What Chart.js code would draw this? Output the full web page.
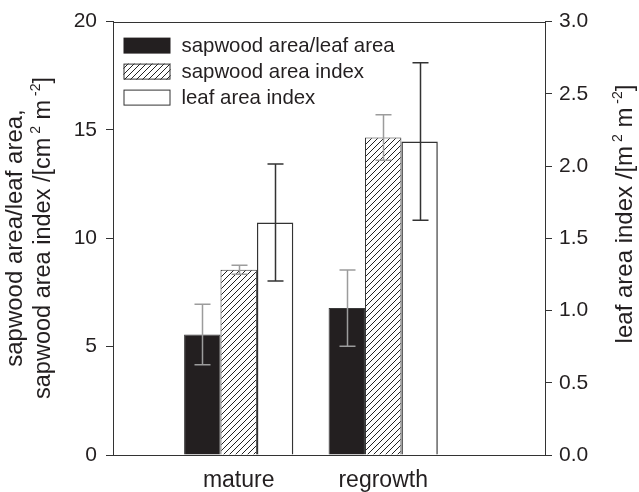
<!DOCTYPE html>
<html>
<head>
<meta charset="utf-8">
<title>Sapwood area and leaf area index</title>
<script src="https://cdn.jsdelivr.net/npm/chart.js@4.4.1/dist/chart.umd.min.js"></script>
<style>
  html, body { margin: 0; padding: 0; background: #fff; }
</style>
</head>
<body>
<canvas id="chart" width="639" height="492"></canvas>
<script>
// Values
const categories = ['mature', 'regrowth'];
const seriesLabels = ['sapwood area/leaf area', 'sapwood area index', 'leaf area index'];
const saLa = [5.56, 6.78];
const saLaErr = [1.4, 1.76];
const sai = [8.55, 14.65];
const saiErr = [0.21, 1.05];
const lai = [1.61, 2.17];
const laiErr = [0.405, 0.545];
const leftTicks = [0, 5, 10, 15, 20];
const rightTicks = [0, 0.5, 1, 1.5, 2, 2.5, 3];

const FONT = "'Liberation Sans', Arial, Helvetica, sans-serif";
const INK = '#231f20';
const AXIS = '#333333';

Chart.defaults.font.family = FONT;
Chart.defaults.color = INK;

// diagonal hatch for the sapwood area index bars
function makeHatch() {
    const c = document.createElement('canvas');
    c.width = 6; c.height = 6;
    const g = c.getContext('2d');
    g.fillStyle = '#fff';
    g.fillRect(0, 0, 6, 6);
    g.strokeStyle = '#222';
    g.lineWidth = 1;
    g.beginPath();
    g.moveTo(0, 6); g.lineTo(6, 0);
    g.moveTo(-1, 1); g.lineTo(1, -1);
    g.moveTo(5, 7); g.lineTo(7, 5);
    g.stroke();
    return g.createPattern(c, 'repeat');
}
const hatch = makeHatch();

// categories sit at x = 1, 2 on a linear axis
function toPoints(values) {
    return values.map((v, i) => ({ x: i + 1, y: v }));
}

// draws rotated (bottom-to-top) text with superscripts, centred on cy
function drawRotated(ctx, parts, size, baseX, cy) {
    ctx.save();
    ctx.translate(baseX, cy);
    ctx.rotate(-Math.PI / 2);
    ctx.fillStyle = INK;
    ctx.textBaseline = 'alphabetic';
    ctx.textAlign = 'left';
    let total = 0;
    parts.forEach(p => {
        ctx.font = (p.sup ? Math.round(size * 0.6) : size) + 'px ' + FONT;
        total += ctx.measureText(p.t).width;
    });
    let x = -total / 2;
    parts.forEach(p => {
        ctx.font = (p.sup ? Math.round(size * 0.6) : size) + 'px ' + FONT;
        ctx.fillText(p.t, x, p.sup ? -size * 0.42 : 0);
        x += ctx.measureText(p.t).width;
    });
    ctx.restore();
}

// error bars, frame top line, legend and axis titles
const extras = {
    id: 'extras',
    afterDatasetsDraw(chart) {
        const ctx = chart.ctx;
        chart.data.datasets.forEach((ds, di) => {
            const meta = chart.getDatasetMeta(di);
            const yScale = chart.scales[ds.yAxisID];
            meta.data.forEach((bar, i) => {
                const v = ds.data[i].y;
                const e = ds.errors[i];
                const top = yScale.getPixelForValue(v + e);
                const bot = yScale.getPixelForValue(v - e);
                const x = Math.round(bar.x) + 0.5;
                ctx.save();
                ctx.strokeStyle = ds.errColor;
                ctx.lineWidth = 1.5;
                ctx.beginPath();
                ctx.moveTo(x, top); ctx.lineTo(x, bot);
                ctx.moveTo(x - 8, top); ctx.lineTo(x + 8, top);
                ctx.moveTo(x - 8, bot); ctx.lineTo(x + 8, bot);
                ctx.stroke();
                ctx.restore();
            });
        });
    },
    afterDraw(chart) {
        const ctx = chart.ctx;
        const area = chart.chartArea;

        // top frame line
        ctx.save();
        ctx.strokeStyle = AXIS;
        ctx.lineWidth = 1;
        ctx.beginPath();
        ctx.moveTo(area.left, Math.round(area.top) + 0.5);
        ctx.lineTo(area.right, Math.round(area.top) + 0.5);
        ctx.stroke();
        ctx.restore();

        // legend in the upper left corner
        const lx = area.left + 10.5;
        chart.data.datasets.forEach((ds, i) => {
            const cy = area.top + 24 + i * 26;
            ctx.save();
            ctx.fillStyle = ds.backgroundColor;
            ctx.fillRect(lx, cy - 8, 47, 16);
            if (i > 0) {
                ctx.strokeStyle = AXIS;
                ctx.lineWidth = 1;
                ctx.strokeRect(lx + 0.5, cy - 7.5, 46, 15);
            }
            ctx.fillStyle = INK;
            ctx.font = '20.4px ' + FONT;
            ctx.textBaseline = 'middle';
            ctx.fillText(ds.label, lx + 58, cy + 1);
            ctx.restore();
        });

        // axis titles
        drawRotated(ctx, [{ t: 'sapwood area/leaf area,' }], 24, 22, 238);
        drawRotated(ctx, [
            { t: 'sapwood area index /[cm' }, { t: ' 2', sup: true },
            { t: ' m' }, { t: ' -2', sup: true }, { t: ']' }
        ], 23.5, 50, 238);
        drawRotated(ctx, [
            { t: 'leaf area index /[m' }, { t: ' 2', sup: true },
            { t: ' m' }, { t: ' -2', sup: true }, { t: ']' }
        ], 24, 632, 214);
    }
};

const ctx = document.getElementById('chart').getContext('2d');
new Chart(ctx, {
    type: 'bar',
    data: {
        datasets: [
            {
                label: seriesLabels[0], data: toPoints(saLa), errors: saLaErr, errColor: '#9c9c9c',
                yAxisID: 'y', backgroundColor: INK, borderColor: '#3a3a3a', borderWidth: 1
            },
            {
                label: seriesLabels[1], data: toPoints(sai), errors: saiErr, errColor: '#9c9c9c',
                yAxisID: 'y', backgroundColor: hatch, borderColor: AXIS, borderWidth: 1
            },
            {
                label: seriesLabels[2], data: toPoints(lai), errors: laiErr, errColor: AXIS,
                yAxisID: 'y2', backgroundColor: '#fff', borderColor: AXIS, borderWidth: 1.5
            }
        ]
    },
    options: {
        responsive: false,
        animation: false,
        layout: { padding: { top: 21 } },
        datasets: { bar: { categoryPercentage: 0.756, barPercentage: 1, borderSkipped: 'bottom' } },
        plugins: { legend: { display: false }, tooltip: { enabled: false } },
        scales: {
            x: {
                type: 'linear', min: 0.13, max: 3.12, bounds: 'data', offset: false,
                grid: { display: false, drawTicks: false },
                border: { color: AXIS, width: 1 },
                ticks: {
                    font: { size: 23 }, padding: 12, autoSkip: false, maxRotation: 0,
                    callback: v => categories[v - 1] || ''
                },
                afterBuildTicks: s => { s.ticks = categories.map((c, i) => ({ value: i + 1 })); },
                afterFit: s => { s.height = 37; }
            },
            y: {
                position: 'left', min: 0, max: 20,
                grid: { drawOnChartArea: false, tickLength: 7, color: AXIS },
                border: { color: AXIS, width: 1 },
                ticks: { font: { size: 21 }, padding: 9, callback: v => v },
                afterBuildTicks: s => { s.ticks = leftTicks.map(v => ({ value: v })); },
                afterFit: s => { s.width = 113; }
            },
            y2: {
                position: 'right', min: 0, max: 3,
                grid: { drawOnChartArea: false, tickLength: 7, color: AXIS },
                border: { color: AXIS, width: 1 },
                ticks: { font: { size: 21 }, padding: 7, callback: v => v.toFixed(1) },
                afterBuildTicks: s => { s.ticks = rightTicks.map(v => ({ value: v })); },
                afterFit: s => { s.width = 94; }
            }
        }
    },
    plugins: [extras]
});
</script>
</body>
</html>
